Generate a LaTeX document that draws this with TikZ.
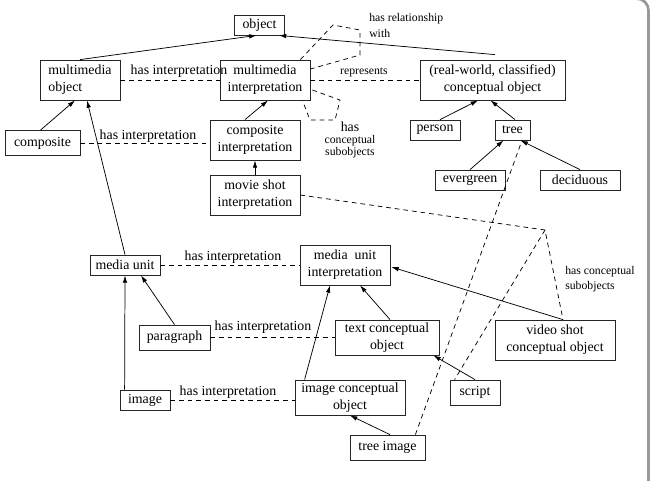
\documentclass[tikz,border=0pt]{standalone}
\usepackage{fontspec}
\setmainfont{Liberation Serif}
\usetikzlibrary{arrows.meta,calc}
\newcommand\mainfs{\fontsize{10.4pt}{12.75pt}\selectfont}
\newcommand\smallfs{\fontsize{8.8pt}{11pt}\selectfont}
\begin{document}
\begin{tikzpicture}[x=0.75pt,y=-0.75pt,
  bx/.style={draw=black!85, line width=0.6pt, inner sep=0pt, align=center, font=\mainfs},
  lbl/.style={inner sep=0pt, font=\mainfs},
  slbl/.style={inner sep=0pt, font=\smallfs},
  arr/.style={-{Latex[length=5.5pt,width=3.4pt]}, line width=0.55pt},
  dsh/.style={dash pattern=on 3.5pt off 3pt, line width=0.55pt},
  frame/.style={draw=black!40, line width=2pt, rounded corners=9pt}
]
\useasboundingbox (0,0) rectangle (653,480);
\begin{scope}
  \clip (0,0) rectangle (653,480);
  \draw[frame] (-30,-1.5) rectangle (648.5,530);
\end{scope}

% nodes
\node[bx, minimum width=37.5pt, minimum height=15pt] (obj) at (259.5,25) {object};
\node[bx, minimum width=60pt, minimum height=30pt, align=left] (mmo) at (80,80) {multimedia\\object};
\node[bx, minimum width=67.5pt, minimum height=30pt] (mmi) at (265,80) {multimedia\\interpretation};
\node[bx, minimum width=108.75pt, minimum height=30pt] (rw) at (492.5,80) {(real-world, classified)\\conceptual object};
\node[bx, minimum width=56.25pt, minimum height=18.75pt] (comp) at (42.5,143) {composite};
\node[bx, minimum width=67.5pt, minimum height=30pt] (compi) at (255,140) {composite\\interpretation};
\node[bx, minimum width=37.5pt, minimum height=15pt] (person) at (435,130) {person};
\node[bx, minimum width=26.25pt, minimum height=15pt] (tree) at (512.5,130) {tree};
\node[bx, minimum width=52.5pt, minimum height=15pt] (everg) at (470,180) {evergreen};
\node[bx, minimum width=60pt, minimum height=15pt] (decid) at (580,180) {deciduous};
\node[bx, minimum width=67.5pt, minimum height=30pt] (movie) at (255,195) {movie shot\\interpretation};
\node[bx, minimum width=52.5pt, minimum height=15pt] (mu) at (125,265) {media unit};
\node[bx, minimum width=67.5pt, minimum height=30pt] (mui) at (345,265) {media\enspace unit\\interpretation};
\node[bx, minimum width=53.25pt, minimum height=18.75pt] (para) at (174.5,337.5) {paragraph};
\node[bx, minimum width=78pt, minimum height=26.25pt] (tco) at (387,337.5) {text conceptual\\object};
\node[bx, minimum width=90pt, minimum height=30pt] (vso) at (555,340) {video shot\\conceptual object};
\node[bx, minimum width=37.5pt, minimum height=15pt] (image) at (145,400) {image};
\node[bx, minimum width=82.5pt, minimum height=26.25pt] (ico) at (350,397.5) {image conceptual\\object};
\node[bx, minimum width=37.5pt, minimum height=18.75pt] (script) at (475,392.5) {script};
\node[bx, minimum width=56.25pt, minimum height=18.75pt] (treeimg) at (387.5,447.5) {tree image};

% labels
\node[lbl] (l1) at (179,71) {has interpretation};
\node[lbl] (l2) at (148,136) {has interpretation};
\node[slbl] (l3) at (364,72) {represents};
\node[slbl, align=left, anchor=west, font=\fontsize{8.8pt}{12pt}\selectfont] (l4) at (369,25) {has relationship\\with};
\node[slbl, align=center, font=\fontsize{8.8pt}{9.2pt}\selectfont] (l5) at (350,140) {{\mainfs has}\\conceptual\\subobjects};
\node[lbl] (l6) at (233,257) {has interpretation};
\node[lbl] (l7) at (263,327) {has interpretation};
\node[lbl] (l8) at (228,392) {has interpretation};
\node[slbl, align=left, anchor=west, font=\fontsize{8.8pt}{11.25pt}\selectfont] (l9) at (565,279.5) {has conceptual\\subobjects};

\coordinate (peak) at (545,230);

% solid arrows
\draw[arr] (mmo.north) -- ($(obj.south)+(-3,0)$);
\draw[arr] ($(rw.north)+(2.5,-5)$) -- ($(obj.south east)+(-6,0)$);
\draw[arr] ($(comp.north)+(-2,0)$) -- ($(mmo.south)+(-5,0)$);
\draw[arr] (mu.north) -- ($(mmo.south)+(7,0)$);
\draw[arr] ($(compi.north)+(-10,0)$) -- ($(mmi.south)+(3,0)$);
\draw[arr] (movie.north) -- (compi.south);
\draw[arr] ($(person.north)+(5,0)$) -- ($(rw.south)+(-14.5,0)$);
\draw[arr] ($(tree.north)+(2.5,0)$) -- ($(rw.south)+(-2,0)$);
\draw[arr] (everg.north) -- ($(tree.south)+(-9,0)$);
\draw[arr] (decid.north) -- ($(tree.south)+(8,0)$);
\draw[arr] ($(image.north west)+(5,0)$) -- (mu.south);
\draw[arr] (para.north) -- ($(mu.south)+(16,0)$);
\draw[arr] ($(ico.north west)+(10,0)$) -- ($(mui.south)+(-15,0)$);
\draw[arr] ($(tco.north)+(3,0)$) -- ($(mui.south)+(15,0)$);
\draw[arr] ($(vso.north)+(8,0)$) -- ($(mui.east)+(1,2)$);
\draw[arr] (script.north) -- ($(tco.south east)+(-6,0)$);
\draw[arr] ($(treeimg.north)+(2.5,0)$) -- (ico.south);

% dashed relations
\draw[dsh] (mmo.east) -- (mmi.west);
\draw[dsh] (comp.east) -- (comp.east -| compi.west);
\draw[dsh] (mmi.east) -- (rw.west);
\draw[dsh] ($(mmi.north east)+(-10,0)$) -- (333,25) -- (360,30) -- (360,55) -- ($(mmi.east)+(0,-11)$);
\draw[dsh] ($(mmi.east)+(2,10)$) -- (340,100) -- (335,120) -- (310,120) -- ($(mmi.south east)+(-8,0)$);
\draw[dsh] (mu.east) -- (mui.west);
\draw[dsh] (para.east) -- (tco.west);
\draw[dsh] (image.east) -- (image.east -| ico.west);
\draw[dsh] (movie.east) -- (peak) -- ($(vso.north)+(8,0)$);
\draw[dsh] (peak) -- ($(script.north west)+(5,0)$);
\draw[dsh] ($(treeimg.north east)+(-10,0)$) -- ($(tree.south)+(9.5,0)$);
\end{tikzpicture}
\end{document}
